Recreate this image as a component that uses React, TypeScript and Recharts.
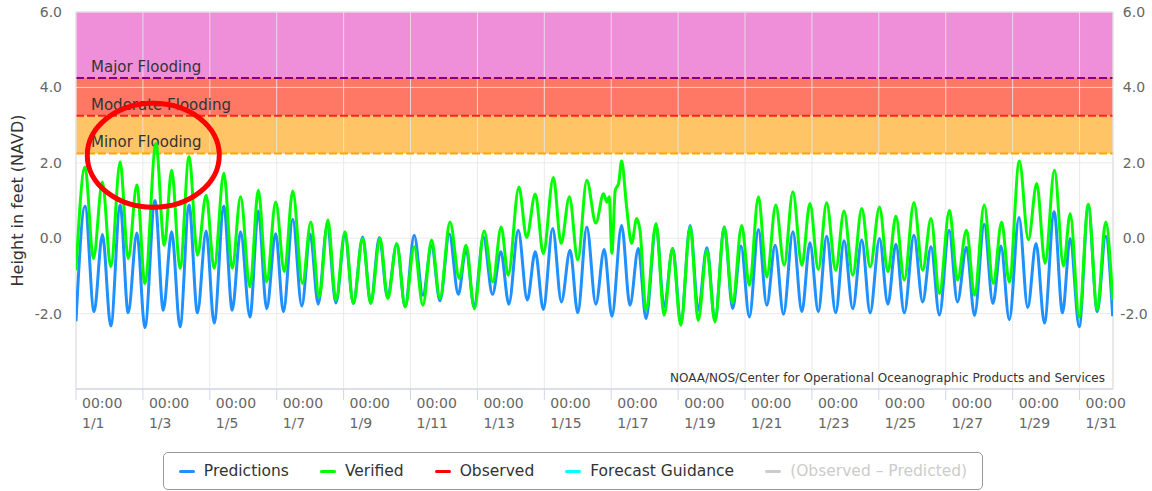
import React from "react";
import {
  LineChart,
  Line,
  XAxis,
  YAxis,
  CartesianGrid,
  ReferenceArea,
  ReferenceLine,
  ReferenceDot,
} from "recharts";

// tide highs/lows: [days after 1/1 00:00, feet NAVD]
const predictions: [number, number][] = [
  [0, -2.2], [0.27, 0.85], [0.54, -1.95], [0.79, 0.1], [1.04, -2.33], [1.32, 0.88], [1.56, -1.98], [1.82, 0.14],
  [2.06, -2.37], [2.36, 1.0], [2.61, -1.91], [2.86, 0.17], [3.11, -2.35], [3.38, 0.88], [3.63, -1.98], [3.89, 0.19],
  [4.13, -2.25], [4.42, 0.85], [4.67, -1.91], [4.92, 0.17], [5.2, -2.09], [5.45, 0.72], [5.7, -1.87], [5.97, 0.12],
  [6.2, -1.95], [6.48, 0.5], [6.75, -1.8], [7.0, 0.11], [7.24, -1.75], [7.51, 0.34], [7.77, -1.72], [8.04, 0.08],
  [8.29, -1.73], [8.57, 0.03], [8.81, -1.72], [9.07, 0.02], [9.31, -1.56], [9.59, -0.16], [9.84, -1.82], [10.11, 0.08],
  [10.37, -1.51], [10.63, -0.2], [10.88, -1.66], [11.16, 0.11], [11.43, -1.49], [11.66, -0.27], [11.9, -1.82], [12.18, 0.03],
  [12.45, -1.49], [12.7, -0.36], [12.94, -1.75], [13.22, 0.21], [13.49, -1.64], [13.73, -0.36], [13.97, -1.89], [14.25, 0.26],
  [14.51, -1.69], [14.77, -0.32], [15.0, -1.98], [15.27, 0.3], [15.54, -1.75], [15.79, -0.3], [16.02, -2.07], [16.31, 0.34],
  [16.56, -1.78], [16.81, -0.27], [17.04, -2.13], [17.34, 0.34], [17.58, -1.82], [17.84, -0.27], [18.08, -2.26], [18.36, 0.34],
  [18.6, -1.91], [18.86, -0.25], [19.1, -2.19], [19.38, 0.3], [19.63, -1.87], [19.88, -0.21], [20.13, -2.09], [20.4, 0.23],
  [20.65, -1.78], [20.9, -0.19], [21.15, -2.02], [21.43, 0.17], [21.7, -1.95], [21.94, -0.12], [22.19, -1.95], [22.44, 0.05],
  [22.71, -1.98], [22.96, -0.07], [23.22, -1.87], [23.49, -0.05], [23.74, -1.98], [24.02, -0.01], [24.27, -1.75], [24.51, -0.16],
  [24.76, -1.98], [25.05, 0.08], [25.31, -1.69], [25.56, -0.23], [25.81, -2.04], [26.1, 0.21], [26.35, -1.69], [26.62, -0.24],
  [26.86, -2.05], [27.15, 0.37], [27.41, -1.73], [27.65, -0.21], [27.9, -2.16], [28.19, 0.55], [28.45, -1.84], [28.7, -0.14],
  [28.95, -2.25], [29.24, 0.7], [29.49, -1.98], [29.72, -0.01], [29.99, -2.35], [30.26, 0.85], [30.53, -1.95], [30.78, 0.05],
  [30.99, -2.07],
];

const verified: [number, number][] = [
  [0, -0.85], [0.27, 1.89], [0.52, -0.54], [0.79, 1.49], [1.04, -0.76], [1.32, 2.02], [1.56, -0.54], [1.82, 1.41],
  [2.06, -1.2], [2.39, 2.51], [2.64, -0.19], [2.86, 1.8], [3.11, -0.8], [3.38, 2.17], [3.63, -0.45], [3.89, 1.14],
  [4.13, -0.8], [4.42, 1.72], [4.67, -0.8], [4.92, 1.1], [5.2, -1.29], [5.45, 1.27], [5.7, -1.16], [5.97, 0.96],
  [6.23, -0.89], [6.48, 1.25], [6.77, -1.2], [7.02, 0.43], [7.27, -1.56], [7.53, 0.48], [7.77, -1.64], [8.04, 0.17],
  [8.29, -1.73], [8.57, 0], [8.81, -1.73], [9.09, 0], [9.32, -1.6], [9.59, -0.14], [9.84, -1.82], [10.11, -0.23],
  [10.37, -1.78], [10.63, -0.05], [10.88, -1.6], [11.18, 0.43], [11.46, -1.07], [11.66, -0.19], [11.91, -1.87], [12.2, 0.19],
  [12.46, -1.16], [12.71, 0.3], [12.92, -0.98], [13.24, 1.36], [13.47, 0.02], [13.73, 1.17], [13.97, -0.41], [14.27, 1.61],
  [14.5, -0.14], [14.75, 1.1], [15.0, -0.58], [15.27, 1.54], [15.54, 0.4], [15.77, 1.18], [15.87, 0.96], [15.94, 1.1],
  [16.02, -0.4], [16.12, 1.27], [16.22, 1.45], [16.31, 2.05], [16.46, 0.83], [16.61, -0.14], [16.76, 0.52], [16.86, 0.21],
  [17.04, -1.91], [17.34, 0.39], [17.58, -2.04], [17.83, -0.27], [18.08, -2.31], [18.36, 0.3], [18.6, -2.18], [18.86, -0.32],
  [19.1, -2.22], [19.38, 0.3], [19.63, -1.72], [19.9, 0.34], [20.13, -1.25], [20.4, 1.1], [20.65, -1.03], [20.92, 0.88],
  [21.17, -0.72], [21.43, 1.23], [21.7, -0.72], [21.94, 0.92], [22.19, -0.83], [22.44, 0.94], [22.71, -0.85], [22.96, 0.72],
  [23.22, -0.98], [23.49, 0.79], [23.74, -0.76], [24.02, 0.83], [24.27, -0.89], [24.51, 0.58], [24.76, -1.11], [25.05, 0.95],
  [25.31, -0.85], [25.56, 0.52], [25.81, -1.47], [26.11, 0.74], [26.35, -1.11], [26.62, 0.21], [26.86, -1.51], [27.15, 0.88],
  [27.42, -1.2], [27.67, 0.43], [27.9, -1.16], [28.2, 2.05], [28.47, -0.04], [28.72, 1.45], [28.97, -0.67], [29.25, 1.8],
  [29.52, -0.74], [29.72, 0.65], [29.99, -2.09], [30.26, 0.9], [30.53, -1.9], [30.78, 0.43], [30.99, -1.64],
];

const tickDays = [0, 2, 4, 6, 8, 10, 12, 14, 16, 18, 20, 22, 24, 26, 28, 30];
const tickDates = ["1/1", "1/3", "1/5", "1/7", "1/9", "1/11", "1/13", "1/15", "1/17", "1/19", "1/21", "1/23", "1/25", "1/27", "1/29", "1/31"];
const heightTicks = [-4, -2, 0, 2, 4, 6];

const floodNames = ["Major Flooding", "Moderate Flooding", "Minor Flooding"];
const floodLevels = [4.25, 3.25, 2.25];
const floodTop = 6;

const legendNames = ["Predictions", "Verified", "Observed", "Forecast Guidance", "(Observed – Predicted)"];

// annotation circle around the early-month peaks
const circleDay = 2.31;
const circleFeet = 2.2;

const FONT = "DejaVu Sans";
const floodFills = ["#F08FD9", "#FF7866", "#FFC466"];
const floodStrokes = ["#800080", "#FF2020", "#FFA500"];
const legendColors = ["#1E90FF", "#00FF00", "#FF0000", "#00FFFF", "#CCCCCC"];

const predData = predictions.map(([d, ft]) => ({ d, ft }));
const verData = verified.map(([d, ft]) => ({ d, ft }));

const fmt = (v: number) => (v === -4 ? "" : v.toFixed(1));

const DateTick = (props: any) => {
  const { x, y, payload } = props;
  const i = tickDays.indexOf(payload.value);
  return (
    <text x={x + 6} y={y} fill="#666" fontSize={14} fontFamily={FONT} textAnchor="start">
      <tspan x={x + 6} dy={6}>00:00</tspan>
      <tspan x={x + 6} dy={20}>{tickDates[i]}</tspan>
    </text>
  );
};

const RightTick = (props: any) => {
  const { x, y, payload } = props;
  return (
    <text x={x} y={y} dy="0.355em" fill="#666" fontSize={14} fontFamily={FONT} textAnchor="middle">
      {fmt(payload.value)}
    </text>
  );
};

export default function App() {
  return (
    <div style={{ position: "absolute", left: 0, top: 0, width: 1152, height: 491, background: "#fff", fontFamily: FONT }}>
      <LineChart width={1152} height={440} margin={{ top: 12, right: 0, bottom: 0, left: 0 }}>
        {/* flood bands */}
        {floodLevels.map((lvl, i) => (
          <ReferenceArea
            key={floodNames[i]}
            x1={0}
            x2={31}
            y1={lvl}
            y2={i === 0 ? floodTop : floodLevels[i - 1]}
            fill={floodFills[i]}
            fillOpacity={1}
            stroke="none"
            zIndex={50}
          />
        ))}
        <CartesianGrid stroke="#e6e6e6" strokeOpacity={0.85} zIndex={150} />
        <XAxis
          dataKey="d"
          type="number"
          domain={[0, 31]}
          ticks={tickDays}
          allowDataOverflow
          height={51}
          stroke="#ccd6eb"
          tickSize={11}
          tickMargin={2}
          tick={<DateTick />}
        />
        <YAxis
          type="number"
          domain={[-4, 6]}
          ticks={heightTicks}
          allowDataOverflow
          width={76}
          axisLine={false}
          tickLine={false}
          tickSize={0}
          tickMargin={14}
          tickFormatter={fmt}
          tick={{ fill: "#666", fontSize: 14, fontFamily: FONT }}
          label={{
            value: "Height in feet (NAVD)",
            angle: -90,
            position: "insideLeft",
            offset: 17,
            style: { textAnchor: "middle", fill: "#333", fontSize: 16, fontFamily: FONT },
          }}
        />
        <YAxis
          yAxisId="r"
          orientation="right"
          type="number"
          domain={[-4, 6]}
          ticks={heightTicks}
          allowDataOverflow
          width={39}
          axisLine={false}
          tickLine={false}
          tickSize={0}
          tickMargin={21}
          tick={<RightTick />}
        />
        {floodLevels.map((lvl, i) => (
          <ReferenceLine
            key={"l" + floodNames[i]}
            y={lvl}
            stroke={floodStrokes[i]}
            strokeWidth={2}
            strokeDasharray="8 3"
            zIndex={160}
            label={(p: any) => (
              <text x={p.viewBox.x + 15} y={p.viewBox.y - 6} fill="#333" fontSize={15} fontFamily={FONT}>
                {floodNames[i]}
              </text>
            )}
          />
        ))}
        <ReferenceArea x1={0} x2={31} y1={-4} y2={6} fill="none" stroke="#dddddd" zIndex={160} />
        <Line data={predData} dataKey="ft" type="monotone" stroke={legendColors[0]} strokeWidth={3} dot={false} isAnimationActive={false} />
        <Line data={verData} dataKey="ft" type="monotone" stroke={legendColors[1]} strokeWidth={3} dot={false} isAnimationActive={false} />
        <ReferenceDot
          x={circleDay}
          y={circleFeet}
          shape={(p: any) => <ellipse cx={p.cx} cy={p.cy} rx={66} ry={52} fill="none" stroke="#FF0000" strokeWidth={5} />}
        />
      </LineChart>
      <div
        style={{
          position: "absolute",
          right: 1152 - 1105,
          top: 371,
          fontSize: 12,
          color: "#333",
          whiteSpace: "nowrap",
        }}
      >
        NOAA/NOS/Center for Operational Oceanographic Products and Services
      </div>
      <div
        style={{
          position: "absolute",
          left: 163,
          top: 452,
          width: 820,
          height: 38,
          boxSizing: "border-box",
          border: "1px solid #999",
          borderRadius: 5,
          display: "flex",
          alignItems: "center",
          justifyContent: "center",
          gap: 31,
          fontSize: 15.5,
        }}
      >
        {legendNames.map((n, i) => (
          <div key={n} style={{ display: "flex", alignItems: "center", color: i === 4 ? "#cccccc" : "#333" }}>
            <span style={{ display: "inline-block", width: 16, height: 3, borderRadius: 2, background: legendColors[i], marginRight: 9 }} />
            {n}
          </div>
        ))}
      </div>
    </div>
  );
}
